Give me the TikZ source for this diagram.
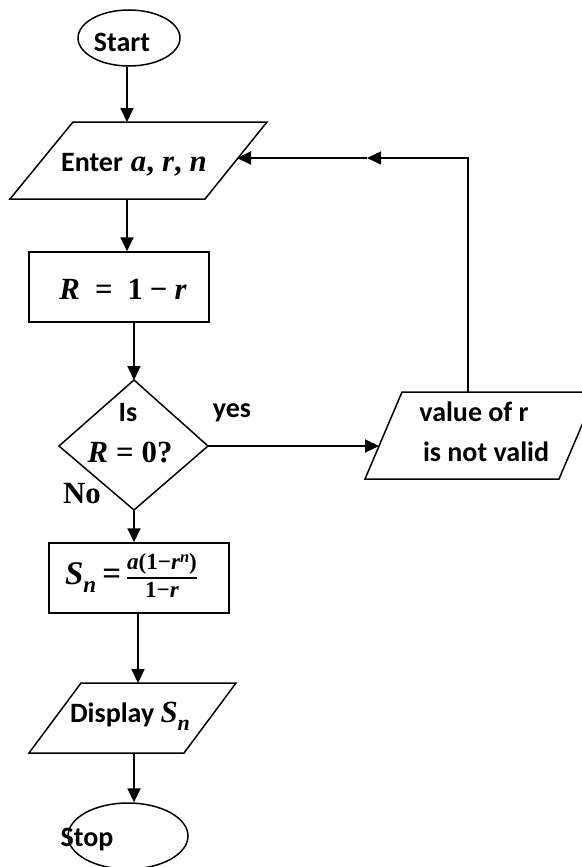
\documentclass[tikz,border=0pt]{standalone}
\usepackage{fontspec}
\setmainfont{Carlito}
\newfontfamily\mfont[Scale=1.1]{Liberation Serif}
\newcommand{\mvar}[1]{{\mfont\bfseries\itshape #1}}
\newcommand{\mup}[1]{{\mfont\bfseries #1}}
\usetikzlibrary{arrows.meta,shapes.geometric}
\begin{document}
\begin{tikzpicture}[x=1pt,y=-1pt,
  shp/.style={draw, line width=1.5pt},
  arr/.style={draw, line width=2pt, -{Triangle[length=14pt,width=13pt]}},
  txt/.style={font=\fontsize{28}{33}\selectfont\bfseries, inner sep=0pt}]
\useasboundingbox (0,0) rectangle (581,867);
% Start
\node[shp, ellipse, minimum width=102pt, minimum height=56pt, inner sep=0pt] (start) at (129,38) {};
\node[txt] (startT) at (122,42) {Start};
% Enter
\coordinate (e1) at (73,122); \coordinate (e2) at (267,122);
\coordinate (e3) at (205,199); \coordinate (e4) at (10,199);
\draw[shp] (e1) -- (e2) -- (e3) -- (e4) -- cycle;
\coordinate (enterTop) at (127,122);
\coordinate (enterBot) at (127,199);
\coordinate (enterRight) at (237,158);
\node[txt] (enterT) at (134,165) {Enter\hspace{8pt}\mvar{a}\mup{,}\hspace{8pt}\mvar{r}\mup{,}\hspace{8pt}\mvar{n}};
% R box
\node[shp, rectangle, minimum width=180pt, minimum height=70pt, inner sep=0pt] (rbox) at (119,287) {};
\node[txt] (rT) at (123,289) {\mvar{R}\hspace{15pt}\mup{=}\hspace{15pt}\mup{1}\hspace{7pt}\mup{−}\hspace{7pt}\mvar{r}};
% diamond
\coordinate (dT) at (134,380); \coordinate (dR) at (208,446);
\coordinate (dB) at (134,510); \coordinate (dL) at (59,446);
\draw[shp] (dT) -- (dR) -- (dB) -- (dL) -- cycle;
\node[txt] (isT) at (128,413) {Is};
\node[txt] (rzT) at (130,452) {\mvar{R}\hspace{8pt}\mup{=}\hspace{8pt}\mup{0}{\mfont ?}};
\node[txt] (yesT) at (232,413) {yes};
\node[txt] (noT) at (82,494) {\mup{No}};
% value box
\coordinate (v1) at (402,392); \coordinate (v2) at (596,392);
\coordinate (v3) at (559,479); \coordinate (v4) at (365,479);
\draw[shp] (v1) -- (v2) -- (v3) -- (v4) -- cycle;
\coordinate (vLeft) at (379,446);
\coordinate (vTop) at (468,392);
\coordinate (corner) at (468,158);
\coordinate (mid) at (367,158);
\node[txt] (v1T) at (474,412) {value of r};
\node[txt] (v2T) at (486,452) {is not valid};
% Sn box
\node[shp, rectangle, minimum width=180pt, minimum height=70pt, inner sep=0pt] (sbox) at (139,578) {};
\node[txt] (sT) at (131,578) {\fontsize{30}{33}\selectfont\mvar{S}\raisebox{-8pt}{\fontsize{21}{21}\selectfont\mvar{n}}\hspace{6pt}\mup{=}\hspace{6pt}%
  \setlength{\arrayrulewidth}{1.8pt}\renewcommand{\arraystretch}{0.8}%
  \begin{tabular}{@{}c@{}}
  {\fontsize{21}{22}\selectfont\mvar{a}\mup{(1−}\mvar{r}\raisebox{7pt}{\fontsize{15}{15}\selectfont\mvar{n}}\mup{)}}\\ \hline
  {\fontsize{21}{22}\selectfont\mup{1−}\mvar{r}}
  \end{tabular}};
% Display
\coordinate (p1) at (81,683); \coordinate (p2) at (236,683);
\coordinate (p3) at (184,753); \coordinate (p4) at (29,753);
\draw[shp] (p1) -- (p2) -- (p3) -- (p4) -- cycle;
\coordinate (dispTop) at (138,683);
\coordinate (dispBot) at (134,753);
\node[txt] (dT2) at (130,716) {Display \mvar{S}\raisebox{-8pt}{\fontsize{20}{20}\selectfont\mvar{n}}};
% Stop
\node[shp, ellipse, minimum width=120pt, minimum height=66pt, inner sep=0pt] (stop) at (128,836) {};
\node[txt] (stopT) at (87,840) {Stop};
% connectors
\draw[arr] (start.south -| enterTop) -- (enterTop);
\draw[arr] (enterBot) -- (enterBot |- rbox.north);
\draw[arr] (rbox.south -| dT) -- (dT);
\draw[arr] (dR) -- (vLeft);
\draw[arr] (dB) -- (dB |- sbox.north);
\draw[arr] (sbox.south -| dispTop) -- (dispTop);
\draw[arr] (dispBot) -- (dispBot |- stop.north);
\draw[line width=1.5pt, -{Triangle[length=14pt,width=13pt]}] (vTop) -- (corner) -- (mid);
\draw[arr] (mid) -- (enterRight);
\end{tikzpicture}
\end{document}
